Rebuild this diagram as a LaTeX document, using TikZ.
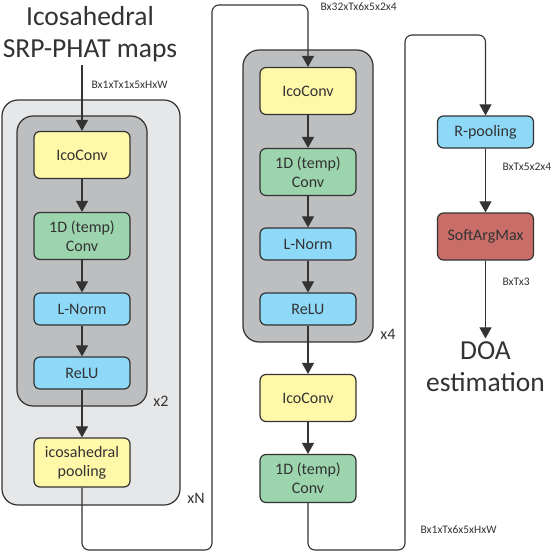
\documentclass[tikz,border=0pt]{standalone}
\usepackage{fontspec}
\setmainfont{Carlito}
\usetikzlibrary{arrows.meta}
\definecolor{icoyellow}{HTML}{FFF8A8}
\definecolor{tempgreen}{HTML}{9BD4AD}
\definecolor{normblue}{HTML}{8ED8F8}
\definecolor{argred}{HTML}{C96D69}
\definecolor{blockdark}{HTML}{BCBEC0}
\definecolor{blocklight}{HTML}{E6E7E8}
\definecolor{edgegray}{HTML}{333333}

\begin{document}
\begin{tikzpicture}[
            x=1pt, y=-1pt,
            layer/.style={rectangle, rounded corners=6pt, draw=edgegray, line width=1.2pt, minimum width=96pt, minimum height=47pt, align=center, font=\fontsize{16}{19}\selectfont, text=edgegray},
            thinlayer/.style={layer, minimum height=32pt},
            group/.style={rectangle, rounded corners=16pt, draw=edgegray, line width=1.2pt},
            flow/.style={-{Triangle[length=11pt,width=12pt]}, line width=1.1pt, draw=edgegray},
            dims/.style={font=\fontsize{11.5}{12}\selectfont, text=edgegray, anchor=west},
            reps/.style={font=\fontsize{16}{18}\selectfont, text=edgegray},
            title/.style={align=center, font=\fontsize{27.5}{32}\selectfont, text=edgegray}
        ]
            \useasboundingbox (0,0) rectangle (558,552);

            % Encoder
            \node[group, fill=blocklight, minimum width=178pt, minimum height=405pt] (outerA) at (91,302.5) {};
            \node[group, fill=blockdark, minimum width=130pt, minimum height=290pt] (innerA) at (82,261) {};
            \node[title] (maps) at (90,34) {Icosahedral\\SRP-PHAT maps};

            \node[layer, fill=icoyellow] (icoA) at (82,155) {IcoConv};
            \node[layer, fill=tempgreen] (tempA) at (82,236) {1D (temp)\\Conv};
            \node[thinlayer, fill=normblue] (normA) at (82,309) {L-Norm};
            \node[thinlayer, fill=normblue] (reluA) at (82,373) {ReLU};
            \node[layer, fill=icoyellow, minimum height=49pt] (poolA) at (82,462.5) {icosahedral\\pooling};

            \draw[flow] (icoA.north |- maps.south) -- (icoA);
            \draw[flow] (icoA) -- (tempA);
            \draw[flow] (tempA) -- (normA);
            \draw[flow] (normA) -- (reluA);
            \draw[flow] (reluA) -- (poolA);

            \node[dims] (dimsA) at (88,85) {Bx1xTx1x5xHxW};
            \node[reps] (repA) at (161,401) {x2};
            \node[reps] (repN) at (196,498) {xN};

            % Middle block
            \node[group, fill=blockdark, minimum width=130pt, minimum height=292pt] (innerB) at (308,196) {};

            \node[layer, fill=icoyellow] (icoB) at (308,91) {IcoConv};
            \node[layer, fill=tempgreen] (tempB) at (308,172) {1D (temp)\\Conv};
            \node[thinlayer, fill=normblue] (normB) at (308,244) {L-Norm};
            \node[thinlayer, fill=normblue] (reluB) at (308,309) {ReLU};
            \node[layer, fill=icoyellow] (icoC) at (308,398) {IcoConv};
            \node[layer, fill=tempgreen, minimum height=48pt] (tempC) at (308,478.5) {1D (temp)\\Conv};

            \draw[flow] (icoB) -- (tempB);
            \draw[flow] (tempB) -- (normB);
            \draw[flow] (normB) -- (reluB);
            \draw[flow] (reluB) -- (icoC);
            \draw[flow] (icoC) -- (tempC);

            \coordinate (loopAbot) at (212,550);
            \coordinate (loopAtop) at (212,5);
            \draw[flow, rounded corners=7pt] (poolA) |- (loopAbot) -- (loopAtop) -| (icoB);

            \node[dims] (dimsB) at (317,7) {Bx32xTx6x5x2x4};
            \node[reps] (repB) at (388,334) {x4};

            % Output
            \node[thinlayer, fill=normblue] (rpool) at (485.5,132) {R-pooling};
            \node[layer, fill=argred] (argmax) at (485.5,236.5) {SoftArgMax};
            \node[title] (doa) at (485.5,367) {DOA\\estimation};

            \coordinate (loopBbot) at (405,550);
            \coordinate (loopBtop) at (405,35);
            \draw[flow, rounded corners=7pt] (tempC) |- (loopBbot) -- (loopBtop) -| (rpool);
            \draw[flow] (rpool) -- (argmax);
            \draw[flow] (argmax) -- (doa);

            \node[dims] (dimsC) at (499,167) {BxTx5x2x4};
            \node[dims] (dimsD) at (499,282) {BxTx3};
            \node[dims] (dimsE) at (417,530) {Bx1xTx6x5xHxW};
        \end{tikzpicture}
\end{document}
